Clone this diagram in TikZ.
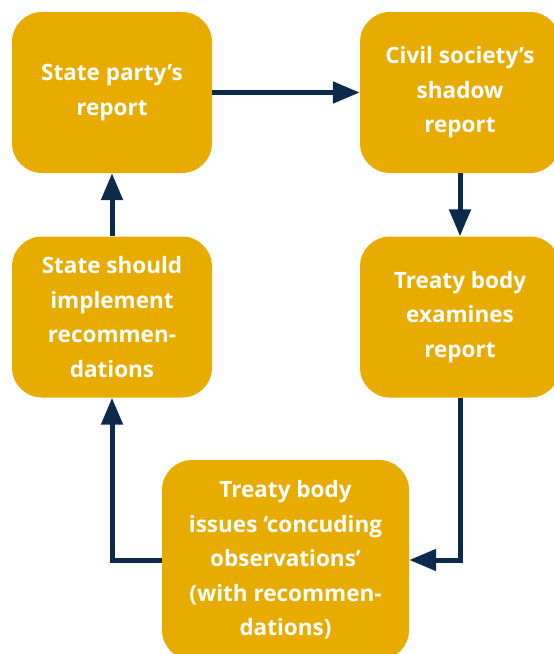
\documentclass[tikz,border=0pt]{standalone}
\usepackage{fontspec}
\setmainfont{Open Sans}
\usetikzlibrary{arrows.meta}
\definecolor{boxgold}{HTML}{E8AC00}
\definecolor{navy}{HTML}{0B2A4C}
\tikzset{
  stagebox/.style={fill=boxgold, rounded corners=30pt, text=white, align=center,
    font=\fontsize{22.5}{34.5}\selectfont\bfseries, inner sep=0pt},
  flow/.style={draw=navy, line width=5pt, -{Triangle[length=27pt,width=21pt]}}
}
\begin{document}
\begin{tikzpicture}[x=1pt,y=-1pt]
\useasboundingbox (0,0) rectangle (554,654);
\clip (0,0) rectangle (554,654);
\fill[white] (0,0) rectangle (554,654);
\node[stagebox, minimum width=200pt, minimum height=161pt] (b1) at (112,92.5) {State party’s\\report};
\node[stagebox, minimum width=200pt, minimum height=161pt] (b2) at (460,92.5) {Civil society’s\\shadow\\report};
\node[stagebox, minimum width=200pt, minimum height=161pt] (b3) at (460,317) {Treaty body\\examines\\report};
\node[stagebox, minimum width=200pt, minimum height=161pt] (b4) at (112,317) {State should\\implement\\recommen-\\dations};
\node[stagebox, minimum width=247pt, minimum height=200pt] (b5) at (285.5,560) {Treaty body\\issues ‘concuding\\observations’\\(with recommen-\\dations)};
\draw[flow] (b1.east) -- (b2.west);
\draw[flow] (b2.south) -- (b3.north);
\draw[flow] (b3.south) |- (b5.east);
\draw[flow] (b5.west) -| (b4.south);
\draw[flow] (b4.north) -- (b1.south);
\end{tikzpicture}
\end{document}
